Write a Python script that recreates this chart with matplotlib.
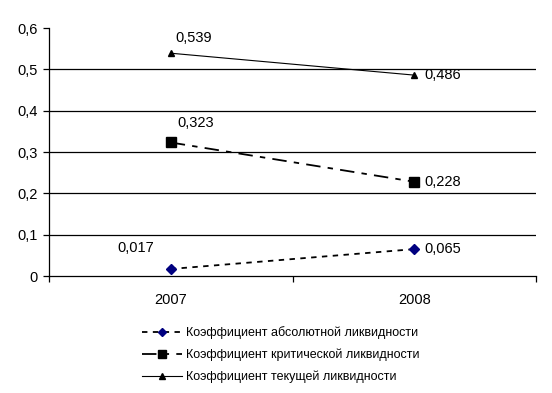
import matplotlib
matplotlib.use("Agg")
import matplotlib.pyplot as plt

plt.rcParams['font.family'] = ['Liberation Sans', 'DejaVu Sans']

years = ["2007", "2008"]
abs_liq = [0.017, 0.065]
crit_liq = [0.323, 0.228]
cur_liq = [0.539, 0.486]
labels = ["Коэффициент абсолютной ликвидности",
          "Коэффициент критической ликвидности",
          "Коэффициент текущей ликвидности"]

fig = plt.figure(figsize=(5.52, 3.93), dpi=100)
ax = fig.add_axes([49/552, 1-276/393, (536-49)/552, (276-28)/393])

x = [0.5, 1.5]
l1, = ax.plot(x, abs_liq, color='black', linewidth=1.3,
              marker='D', markersize=5, markerfacecolor='#000080', markeredgecolor='#000080')
l1.set_dashes([3, 3])
l2, = ax.plot(x, crit_liq, color='black', linewidth=1.3, marker='s', markersize=6.5)
l2.set_dashes([8, 4, 3, 4])
l3, = ax.plot(x, cur_liq, color='black', linewidth=0.8, marker='^', markersize=4.5)

fs = 10.5
ax.annotate("0,539", (x[0], cur_liq[0]), xytext=(3, 11), textcoords='offset points', fontsize=fs, va='center')
ax.annotate("0,486", (x[1], cur_liq[1]), xytext=(7, 0), textcoords='offset points', fontsize=fs, va='center')
ax.annotate("0,323", (x[0], crit_liq[0]), xytext=(5, 14), textcoords='offset points', fontsize=fs, va='center')
ax.annotate("0,228", (x[1], crit_liq[1]), xytext=(7, 0), textcoords='offset points', fontsize=fs, va='center')
ax.annotate("0,017", (x[0], abs_liq[0]), xytext=(-25, 15), textcoords='offset points', fontsize=fs, va='center', ha='center')
ax.annotate("0,065", (x[1], abs_liq[1]), xytext=(7, 0), textcoords='offset points', fontsize=fs, va='center')

ax.set_xlim(0, 2)
ax.set_ylim(0, 0.6)
ax.set_yticks([0, 0.1, 0.2, 0.3, 0.4, 0.5, 0.6])
ax.set_yticklabels(["0", "0,1", "0,2", "0,3", "0,4", "0,5", "0,6"], fontsize=fs)
for yv in [0.1, 0.2, 0.3, 0.4, 0.5]:
    ax.axhline(yv, color='black', linewidth=0.9, zorder=0)
ax.set_xticks([0, 1, 2])
ax.set_xticklabels([])
ax.set_xticks(x, minor=True)
ax.set_xticklabels(years, minor=True, fontsize=fs)
ax.tick_params(axis='x', which='minor', length=0, pad=12)
ax.tick_params(axis='x', which='major', length=4, direction='out', width=0.9)
ax.tick_params(axis='y', length=4, direction='out', width=0.9, pad=4)
ax.spines['top'].set_visible(False)
ax.spines['right'].set_visible(False)
ax.spines['left'].set_linewidth(0.9)
ax.spines['bottom'].set_linewidth(0.9)

leg = fig.legend([l1, l2, l3], labels, loc='upper left', bbox_to_anchor=(136/552, 1-320/393),
                 frameon=False, fontsize=9, handlelength=3.2, labelspacing=0.75,
                 handletextpad=0.3, borderpad=0, markerscale=0.9)

fig.savefig("out.png", dpi=100)
